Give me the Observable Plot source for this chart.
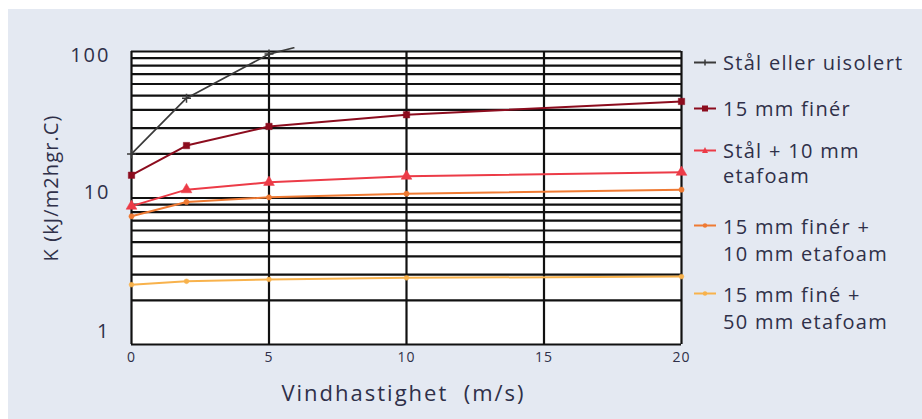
<!DOCTYPE html>
<html>
<head>
<meta charset="utf-8">
<script src="https://cdn.jsdelivr.net/npm/d3@7"></script>
<script src="https://cdn.jsdelivr.net/npm/@observablehq/plot@0.6"></script>
<style>
  html, body { margin: 0; padding: 0; background: #ffffff; }
  #wrap { position: relative; width: 922px; height: 419px; overflow: hidden; font-family: "Open Sans", sans-serif; }
  #panel { position: absolute; left: 8px; top: 9px; width: 914px; height: 410px; background: #e4e9f2; }
  #chart { position: absolute; left: 0; top: 0; }
  #legend { position: absolute; left: 0; top: 0; width: 922px; height: 419px; pointer-events: none; }
  .item { position: absolute; left: 694px; display: flex; align-items: flex-start; color: #2f3049; font-size: 20px; line-height: 25px; letter-spacing: 1.3px; white-space: nowrap; }
  .item svg { margin-top: 6px; margin-right: 7px; }
</style>
</head>
<body>
<div id="wrap">
  <div id="panel"></div>
  <div id="chart"></div>
  <div id="legend"></div>
</div>
<script>
// ---- data ----
const windSpeed = [0, 2, 5, 10, 20];
const seriesNames = [
  "Stål eller uisolert",
  "15 mm finér",
  "Stål + 10 mm etafoam",
  "15 mm finér + 10 mm etafoam",
  "15 mm finé + 50 mm etafoam"
];
const legendLines = [
  ["Stål eller uisolert"],
  ["15 mm finér"],
  ["Stål + 10 mm", "etafoam"],
  ["15 mm finér +", "10 mm  etafoam"],
  ["15 mm finé +", "50 mm  etafoam"]
];
// black series runs off the top of the chart shortly after x = 5
const stalX = [0, 2, 5, 5.9];
const stalK = [20, 48, 96, 106];
const finerK = [14.3, 22.8, 30.8, 37, 45.6];
const stalFoamK = [8.8, 11.4, 12.8, 14.1, 15.0];
const finerFoam10K = [7.5, 9.4, 10.1, 10.7, 11.4];
const finerFoam50K = [2.56, 2.70, 2.78, 2.85, 2.91];
const xTicks = [0, 5, 10, 15, 20];
const yTicks = [1, 10, 100];
const yGrid = [1, 2, 3, 4, 5, 6, 7, 8, 9, 10, 20, 30, 40, 50, 60, 70, 80, 90, 100];
const xLabel = "Vindhastighet  (m/s)";
const yLabel = "K (kJ/m2hgr.C)";
const colors = ["#3a3a3a", "#8c0c1e", "#ec3b47", "#ef7a33", "#f8b24c"];
const symbols = ["plus", "square", "triangle", "circle", "circle"];
const symbolSizes = [3, 3.6, 4, 2.6, 2.4];

// ---- build table ----
const rows = [];
stalX.forEach((x, i) => rows.push({ series: seriesNames[0], x, k: stalK[i], marker: i < 3 }));
[finerK, stalFoamK, finerFoam10K, finerFoam50K].forEach((arr, s) => {
  arr.forEach((k, i) => rows.push({ series: seriesNames[s + 1], x: windSpeed[i], k, marker: true }));
});

const ink = "#2f3049";
// the original's tick labels sit slightly off their grid lines
const yTickShift = [-13, -5, 4];
const marks = [
  Plot.frame({ fill: "white", stroke: null }),
  Plot.ruleY(yGrid, { stroke: "#111", strokeWidth: 2.2 }),
  Plot.ruleX(xTicks, { stroke: "#111", strokeWidth: 2.2 }),
  ...yTicks.map((t, i) => Plot.axisY({ ticks: [t], tickFormat: d => String(d), tickSize: 0, tickPadding: 21,
    fontSize: 20, dy: yTickShift[i], label: null, color: ink })),
  Plot.axisX({ ticks: xTicks, tickFormat: d => String(d), tickSize: 0, tickPadding: 8, fontSize: 14,
    label: null, color: ink }),
  Plot.text([xLabel], { frameAnchor: "bottom", dy: 49, dx: -3, lineAnchor: "middle", textAnchor: "middle",
    fontSize: 22, fill: ink })
];
seriesNames.forEach((name, s) => {
  const data = rows.filter(r => r.series === name);
  marks.push(Plot.line(data, { x: "x", y: "k", stroke: colors[s], strokeWidth: s === 0 ? 1.7 : 2 }));
  marks.push(Plot.dot(data.filter(d => d.marker), { x: "x", y: "k", fill: colors[s], stroke: colors[s],
    symbol: symbols[s], r: symbolSizes[s], strokeWidth: s === 0 ? 1.5 : 0.5 }));
});

const chart = Plot.plot({
  width: 922,
  height: 419,
  marginLeft: 131,
  marginRight: 241,
  marginTop: 51,
  marginBottom: 75,
  style: { background: "transparent", fontFamily: "'Open Sans', sans-serif", overflow: "visible" },
  x: { domain: [0, 20] },
  y: { type: "log", domain: [1, 100] },
  marks
});
d3.select(chart).selectAll("g[aria-label='y-axis tick label'] text").style("letter-spacing", "2px");
d3.select(chart).selectAll("g[aria-label='x-axis tick label'] text").style("letter-spacing", "1px");
d3.select(chart).selectAll("g[aria-label='text'] text").style("letter-spacing", "2px");
document.getElementById("chart").appendChild(chart);

// y-axis title, rotated, as real text
const yl = document.createElement("div");
yl.textContent = yLabel;
Object.assign(yl.style, {
  position: "absolute", left: "50px", top: "188px", transform: "translate(-50%, -50%) rotate(-90deg)",
  whiteSpace: "nowrap", fontSize: "20px", letterSpacing: "1.1px", color: ink, fontFamily: "'Open Sans', sans-serif"
});
document.getElementById("legend").appendChild(yl);

// ---- legend ----
const legendTops = [50, 96, 138, 213, 281];
const legend = document.getElementById("legend");
legendLines.forEach((lines, s) => {
  const item = document.createElement("div");
  item.className = "item";
  item.style.top = legendTops[s] + "px";
  if (s >= 3) item.style.lineHeight = "27px";
  const sym = symbols[s];
  let markerSvg = "";
  if (sym === "square") markerSvg = `<rect x="8" y="3.5" width="6" height="6" fill="${colors[s]}"/>`;
  else if (sym === "triangle") markerSvg = `<path d="M11,3 L14,9 L8,9 Z" fill="${colors[s]}"/>`;
  else if (sym === "plus") markerSvg = `<line x1="11" y1="3.5" x2="11" y2="9.5" stroke="${colors[s]}" stroke-width="1.5"/>`;
  else markerSvg = `<circle cx="11" cy="6.5" r="2.2" fill="${colors[s]}"/>`;
  item.innerHTML = `<svg width="22" height="13"><line x1="0" y1="6.5" x2="22" y2="6.5" stroke="${colors[s]}" stroke-width="2"/>${markerSvg}</svg><div>${lines.join("<br>")}</div>`;
  legend.appendChild(item);
});
</script>
</body>
</html>
